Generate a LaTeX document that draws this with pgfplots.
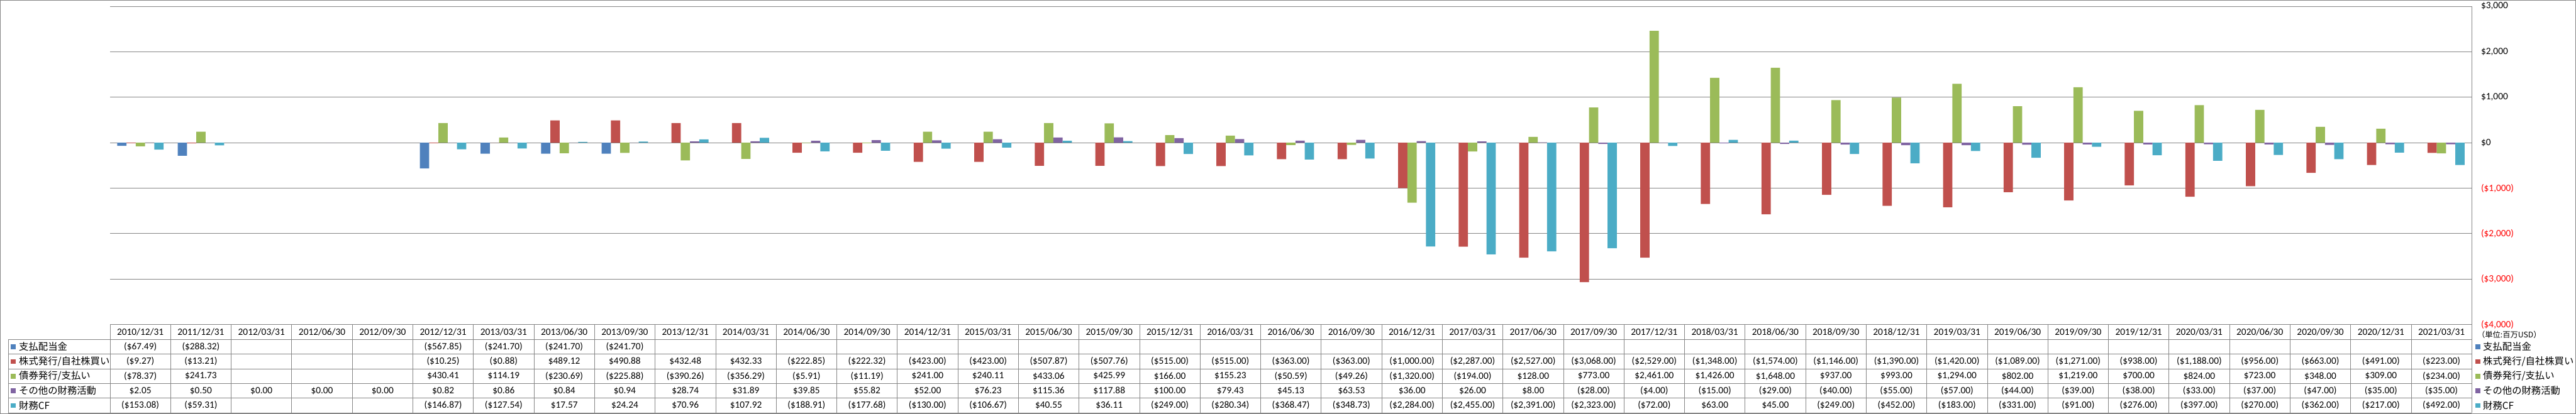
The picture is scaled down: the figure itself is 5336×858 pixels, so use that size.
\documentclass[border=0pt]{standalone}
\usepackage{fontspec}
\setmainfont{Carlito}
\newfontfamily\jp{Noto Sans CJK JP}
\usepackage{pgfplots}
\usepackage{pgfplotstable}
\pgfplotsset{compat=1.18}

\definecolor{cdiv}{HTML}{4F81BD}
\definecolor{cstk}{HTML}{C0504D}
\definecolor{cbnd}{HTML}{9BBB59}
\definecolor{coth}{HTML}{8064A2}
\definecolor{ccf}{HTML}{4BACC6}
\definecolor{gridgray}{HTML}{868686}
\definecolor{negred}{HTML}{FF0000}

% values in million USD, nan = no figure
\pgfplotstableread{
idx date div stk bnd oth cf
0 2010/12/31 -67.49 -9.27 -78.37 2.05 -153.08
1 2011/12/31 -288.32 -13.21 241.73 0.50 -59.31
2 2012/03/31 nan nan nan 0.00 nan
3 2012/06/30 nan nan nan 0.00 nan
4 2012/09/30 nan nan nan 0.00 nan
5 2012/12/31 -567.85 -10.25 430.41 0.82 -146.87
6 2013/03/31 -241.70 -0.88 114.19 0.86 -127.54
7 2013/06/30 -241.70 489.12 -230.69 0.84 17.57
8 2013/09/30 -241.70 490.88 -225.88 0.94 24.24
9 2013/12/31 nan 432.48 -390.26 28.74 70.96
10 2014/03/31 nan 432.33 -356.29 31.89 107.92
11 2014/06/30 nan -222.85 -5.91 39.85 -188.91
12 2014/09/30 nan -222.32 -11.19 55.82 -177.68
13 2014/12/31 nan -423.00 241.00 52.00 -130.00
14 2015/03/31 nan -423.00 240.11 76.23 -106.67
15 2015/06/30 nan -507.87 433.06 115.36 40.55
16 2015/09/30 nan -507.76 425.99 117.88 36.11
17 2015/12/31 nan -515.00 166.00 100.00 -249.00
18 2016/03/31 nan -515.00 155.23 79.43 -280.34
19 2016/06/30 nan -363.00 -50.59 45.13 -368.47
20 2016/09/30 nan -363.00 -49.26 63.53 -348.73
21 2016/12/31 nan -1000.00 -1320.00 36.00 -2284.00
22 2017/03/31 nan -2287.00 -194.00 26.00 -2455.00
23 2017/06/30 nan -2527.00 128.00 8.00 -2391.00
24 2017/09/30 nan -3068.00 773.00 -28.00 -2323.00
25 2017/12/31 nan -2529.00 2461.00 -4.00 -72.00
26 2018/03/31 nan -1348.00 1426.00 -15.00 63.00
27 2018/06/30 nan -1574.00 1648.00 -29.00 45.00
28 2018/09/30 nan -1146.00 937.00 -40.00 -249.00
29 2018/12/31 nan -1390.00 993.00 -55.00 -452.00
30 2019/03/31 nan -1420.00 1294.00 -57.00 -183.00
31 2019/06/30 nan -1089.00 802.00 -44.00 -331.00
32 2019/09/30 nan -1271.00 1219.00 -39.00 -91.00
33 2019/12/31 nan -938.00 700.00 -38.00 -276.00
34 2020/03/31 nan -1188.00 824.00 -33.00 -397.00
35 2020/06/30 nan -956.00 723.00 -37.00 -270.00
36 2020/09/30 nan -663.00 348.00 -47.00 -362.00
37 2020/12/31 nan -491.00 309.00 -35.00 -217.00
38 2021/03/31 nan -223.00 -234.00 -35.00 -492.00
}\data

% accounting style cell: ($1,234.00) for negatives, blank for nan
\newcommand\cell[1]{%
  \edef\tmp{#1}\def\nanstr{nan}%
  \ifx\tmp\nanstr\else
    \pgfmathparse{\tmp<0}%
    \ifdim\pgfmathresult pt>0.5pt
      \pgfmathparse{abs(\tmp)}%
      (\$\pgfmathprintnumber[fixed,fixed zerofill,precision=2,1000 sep={,},assume math mode=true]{\pgfmathresult})%
    \else
      \$\pgfmathprintnumber[fixed,fixed zerofill,precision=2,1000 sep={,},assume math mode=true]{\tmp}%
    \fi
  \fi}

\begin{document}
\begin{tikzpicture}
\begin{axis}[
    at={(114pt,-336.5pt)}, anchor=south west,
    scale only axis,
    width=2446pt, height=330pt,
    xmin=-0.5, xmax=38.5,
    ymin=-4000, ymax=3000,
    xtick=\empty,
    ytick={-4000,-3000,...,3000},
    yticklabels={{\color{negred}(\$4,000)},{\color{negred}(\$3,000)},{\color{negred}(\$2,000)},{\color{negred}(\$1,000)},\$0,{\$1,000},{\$2,000},{\$3,000}},
    yticklabel pos=right,
    yticklabel style={anchor=west, inner sep=0pt, xshift=9.5pt,
        font=\fontsize{10pt}{12pt}\selectfont},
    major tick length=0pt,
    axis line style={draw=none},
    ymajorgrids=true,
    major grid style={draw=gridgray, line width=0.5pt},
    ybar=0pt,
    bar width=9.6pt,
]
\addplot[fill=cdiv, draw=none] table[x=idx, y=div] {\data};
\addplot[fill=cstk, draw=none] table[x=idx, y=stk] {\data};
\addplot[fill=cbnd, draw=none] table[x=idx, y=bnd] {\data};
\addplot[fill=coth, draw=none] table[x=idx, y=oth] {\data};
\addplot[fill=ccf,  draw=none] table[x=idx, y=cf]  {\data};
\end{axis}

% data table below the plot, units: reference pixels, origin top left
\begin{scope}[x=0.5pt, y=-0.5pt, font=\fontsize{10pt}{12pt}\selectfont]
  \draw[gridgray, line width=0.5pt] (0.5,0.5) rectangle (5335.5,857.5);
  \draw[gridgray, line width=0.5pt] (228,673) -- (5120,673);
  \foreach \yy in {704,734.4,764.8,795.2,825.6,856}
    \draw[gridgray, line width=0.5pt] (17,\yy) -- (5120,\yy);
  \draw[gridgray, line width=0.5pt] (17,704) -- (17,856);
  \foreach \k in {0,...,38}
    \draw[gridgray, line width=0.5pt] ({228+\k*125.4359},673) -- ({228+\k*125.4359},856);
  \draw[gridgray, line width=0.5pt] (5120,13) -- (5120,856);

  \foreach \i in {0,...,38} {
    \pgfplotstablegetelem{\i}{date}\of\data
    \node at ({228+(\i+0.5)*125.4359},688.5) {\pgfplotsretval};
    \foreach \c/\r in {div/0,stk/1,bnd/2,oth/3,cf/4} {
      \edef\getcmd{\noexpand\pgfplotstablegetelem{\i}{\c}\noexpand\of\noexpand\data}\getcmd
      \node at ({228+(\i+0.5)*125.4359},{704+30.4*(\r+0.5)}) {\cell{\pgfplotsretval}};
    }
  }

  % row labels
  \fill[cdiv] (22,714.2) rectangle (32,724.2);
  \node[anchor=west, inner sep=0pt] at (39,719.2) {\jp 支払配当金};
  \fill[cstk] (22,744.6) rectangle (32,754.6);
  \node[anchor=west, inner sep=0pt] at (39,749.6) {\jp 株式発行/自社株買い};
  \fill[cbnd] (22,775.0) rectangle (32,785.0);
  \node[anchor=west, inner sep=0pt] at (39,780.0) {\jp 債券発行/支払い};
  \fill[coth] (22,805.4) rectangle (32,815.4);
  \node[anchor=west, inner sep=0pt] at (39,810.4) {\jp その他の財務活動};
  \fill[ccf] (22,835.8) rectangle (32,845.8);
  \node[anchor=west, inner sep=0pt] at (39,840.8) {\jp 財務CF};

  % legend at the right
  \node[anchor=west, inner sep=0pt, font=\fontsize{8pt}{10pt}\selectfont] at (5131,694) {\jp （単位:百万USD）};
  \fill[cdiv] (5128,714.2) rectangle (5138,724.2);
  \node[anchor=west, inner sep=0pt] at (5143,719.2) {\jp 支払配当金};
  \fill[cstk] (5128,744.6) rectangle (5138,754.6);
  \node[anchor=west, inner sep=0pt] at (5143,749.6) {\jp 株式発行/自社株買い};
  \fill[cbnd] (5128,775.0) rectangle (5138,785.0);
  \node[anchor=west, inner sep=0pt] at (5143,780.0) {\jp 債券発行/支払い};
  \fill[coth] (5128,805.4) rectangle (5138,815.4);
  \node[anchor=west, inner sep=0pt] at (5143,810.4) {\jp その他の財務活動};
  \fill[ccf] (5128,835.8) rectangle (5138,845.8);
  \node[anchor=west, inner sep=0pt] at (5143,840.8) {\jp 財務CF};
\end{scope}
\end{tikzpicture}
\end{document}
